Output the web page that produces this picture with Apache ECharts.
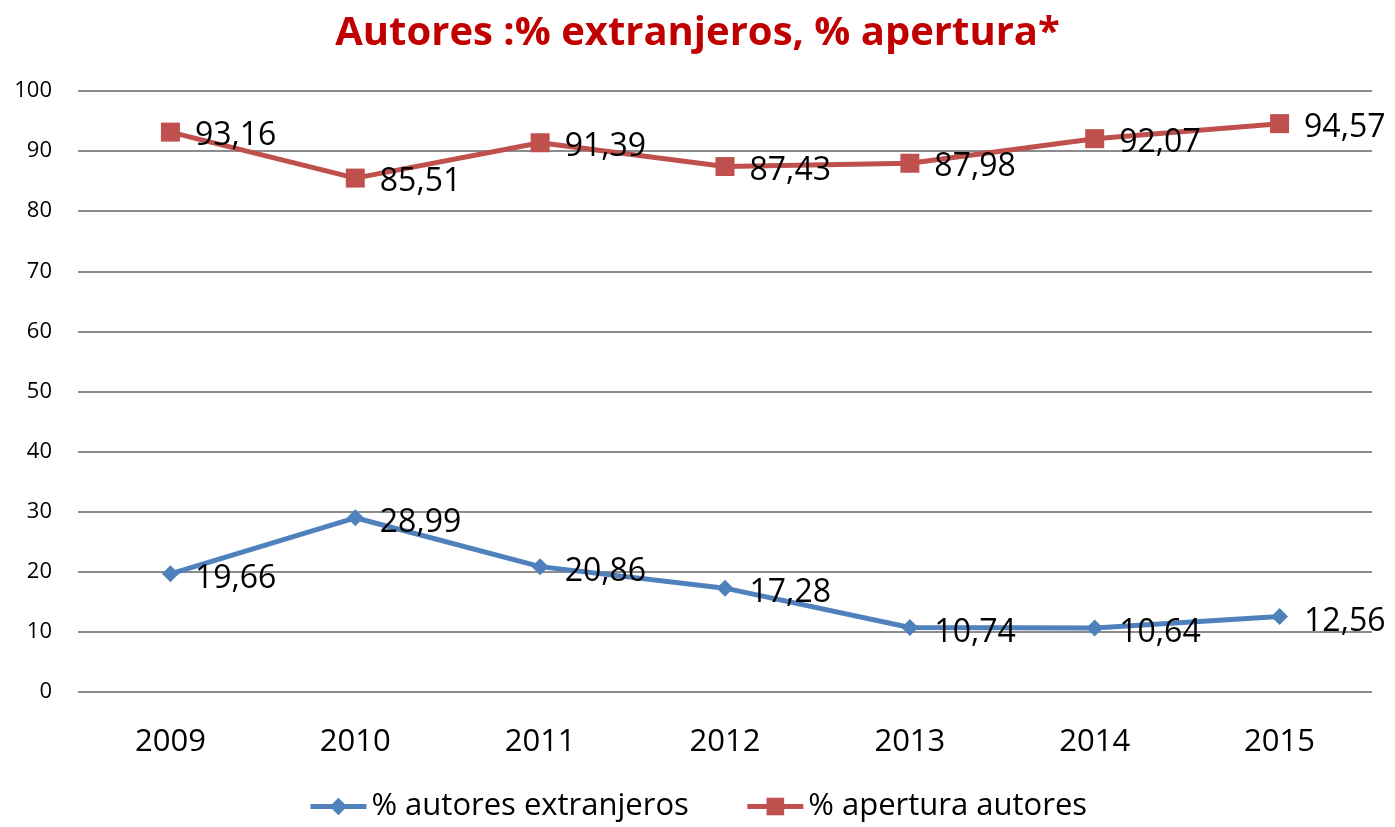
<!DOCTYPE html>
<html>
<head>
<meta charset="utf-8">
<script src="https://cdn.jsdelivr.net/npm/echarts@6/dist/echarts.min.js"></script>
<style>
html, body { margin: 0; padding: 0; background: #fff; }
#chart { width: 1395px; height: 827px; }
</style>
</head>
<body>
<div id="chart"></div>
<script>
const years = ["2009", "2010", "2011", "2012", "2013", "2014", "2015"]
const extranjeros = [19.66, 28.99, 20.86, 17.28, 10.74, 10.64, 12.56]
const apertura = [93.16, 85.51, 91.39, 87.43, 87.98, 92.07, 94.57]
const yTicks = [0, 10, 20, 30, 40, 50, 60, 70, 80, 90, 100]

const font = "'Open Sans', 'Noto Sans', sans-serif"
const fmt = p => p.value.toFixed(2).replace(".", ",")

let plot = echarts.init(document.getElementById("chart"))
plot.setOption({
    animation: false,
    textStyle: { fontFamily: font },
    title: {
        text: "Autores :% extranjeros, % apertura*",
        left: "center",
        top: 9,
        textStyle: { color: "#C00000", fontSize: 40, fontWeight: "bold", fontFamily: font }
    },
    legend: {
        bottom: 0,
        left: "center",
        itemWidth: 56,
        itemHeight: 22,
        itemGap: 56,
        lineStyle: { width: 5 },
        textStyle: { fontSize: 31, color: "#000", fontFamily: font },
        data: ["% autores extranjeros", "% apertura autores"]
    },
    grid: { left: 78, right: 23, top: 91, bottom: 135 },
    xAxis: {
        type: "category",
        data: years,
        boundaryGap: true,
        axisLine: { show: false },
        axisTick: { show: false },
        axisLabel: { fontSize: 31, color: "#000", margin: 35 }
    },
    yAxis: {
        type: "value",
        min: yTicks[0],
        max: yTicks[yTicks.length - 1],
        interval: 10,
        axisLine: { show: false },
        axisTick: { show: false },
        axisLabel: { fontSize: 22, color: "#000", margin: 26 },
        splitLine: { lineStyle: { color: "#8c8c8c", width: 2 } }
    },
    series: [
        {
            name: "% autores extranjeros",
            type: "line",
            data: extranjeros,
            symbol: "diamond",
            symbolSize: 17,
            color: "#4F81BD",
            lineStyle: { width: 5, color: "#4F81BD" },
            label: { show: true, position: "right", distance: 16, offset: [0, 5], fontSize: 32, color: "#000", formatter: fmt }
        },
        {
            name: "% apertura autores",
            type: "line",
            data: apertura,
            symbol: "rect",
            symbolSize: 19,
            color: "#C0504D",
            lineStyle: { width: 5, color: "#C0504D" },
            label: { show: true, position: "right", distance: 15, offset: [0, 4], fontSize: 32, color: "#000", formatter: fmt }
        }
    ]
})
</script>
</body>
</html>
